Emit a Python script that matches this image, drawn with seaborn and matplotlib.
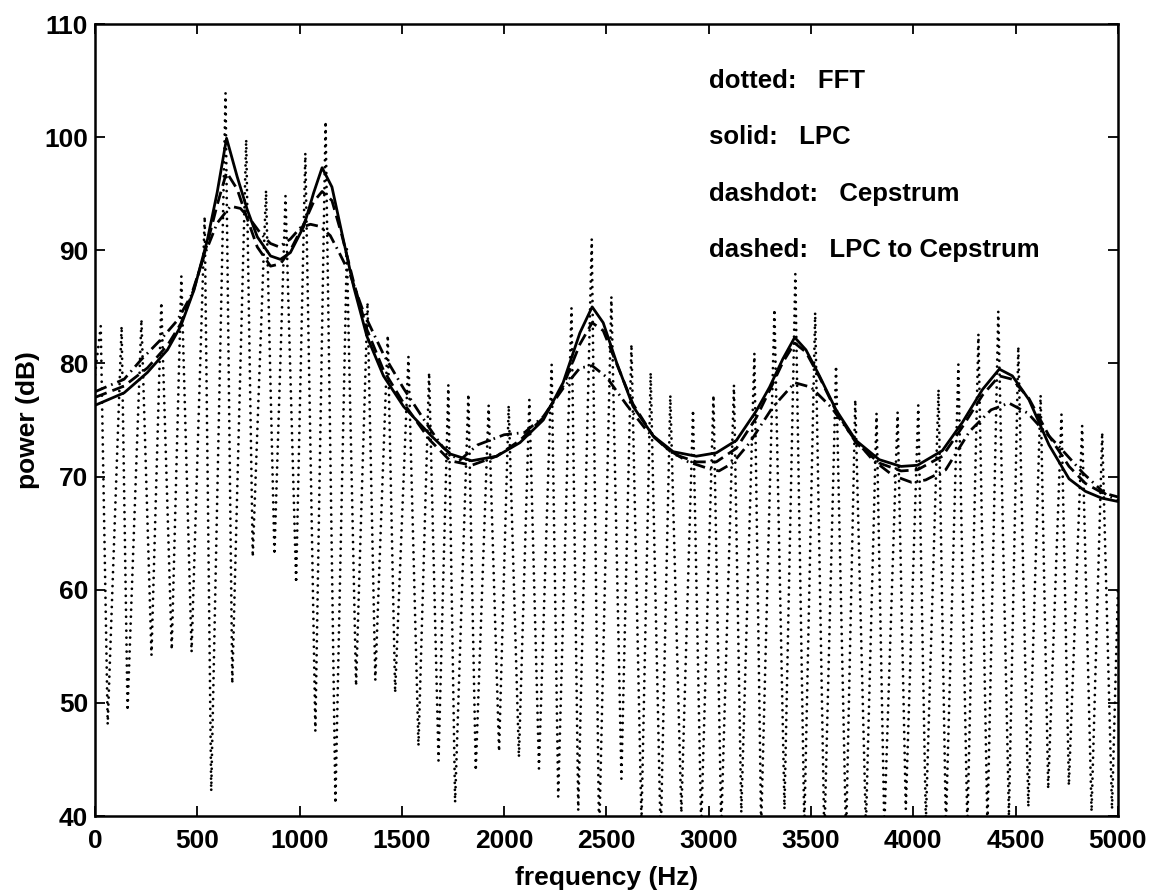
import matplotlib
matplotlib.use("Agg")
import matplotlib.pyplot as plt
import seaborn as sns
import pandas as pd

# ---------------- data ----------------
# FFT (dotted): harmonic peaks and the troughs between them
fft_peak_hz = [28, 130, 227, 324, 422, 536, 638, 739, 836, 931, 1028, 1127, 1231, 1332, 1431,
               1532, 1633, 1727, 1825, 1924, 2022, 2123, 2232, 2329, 2428, 2524, 2622, 2716,
               2812, 2923, 3023, 3123, 3223, 3321, 3423, 3520, 3622, 3716, 3820, 3923, 4024,
               4123, 4220, 4318, 4415, 4513, 4622, 4724, 4825, 4923]
fft_peak_db = [83.3, 83.3, 83.9, 85.4, 87.7, 93.0, 103.9, 99.8, 95.3, 94.8, 98.6, 101.4, 90.1,
               85.4, 82.5, 80.6, 79.2, 78.1, 77.3, 76.3, 76.3, 76.8, 79.9, 84.9, 91.0, 85.9,
               81.7, 79.2, 77.2, 75.9, 77.2, 78.1, 80.9, 84.8, 87.9, 84.5, 79.8, 76.8, 75.6,
               75.7, 76.3, 77.7, 79.9, 82.6, 84.6, 81.5, 77.2, 75.5, 74.5, 73.9]
fft_trough_hz = [62, 159, 276, 375, 472, 568, 671, 771, 877, 983, 1077, 1175, 1276, 1370, 1467,
                 1581, 1679, 1760, 1861, 1975, 2072, 2170, 2264, 2362, 2464, 2573, 2671, 2765,
                 2866, 2963, 3061, 3159, 3256, 3370, 3467, 3565, 3671, 3768, 3858, 3963, 4061,
                 4159, 4264, 4362, 4467, 4562, 4659, 4760, 4871, 4971]
fft_trough_db = [48.1, 49.3, 54.2, 54.7, 54.5, 42.2, 51.7, 62.9, 63.1, 60.6, 47.5, 41.1, 51.5,
                 52.0, 50.9, 46.2, 44.9, 41.2, 44.0, 45.7, 45.2, 44.2, 41.7, 40.5, 38.0, 43.3,
                 39.5, 38.0, 40.3, 39.0, 39.0, 40.3, 39.0, 40.6, 39.0, 38.0, 38.0, 39.0, 39.0,
                 40.6, 39.5, 39.0, 39.0, 39.0, 40.0, 40.8, 42.4, 42.7, 40.4, 40.6]
fft_edge_hz = [0, 5000]
fft_edge_db = [79.0, 60.0]

# LPC (solid) and LPC-to-cepstrum (dashed) envelopes
env_hz = [0, 142, 256, 354, 419, 484, 549, 597, 643, 695, 744, 793, 858, 906, 955, 1020, 1069,
          1110, 1158, 1207, 1264, 1329, 1410, 1508, 1638, 1736, 1841, 1963, 2077, 2191, 2288,
          2370, 2430, 2484, 2549, 2630, 2728, 2826, 2939, 3037, 3135, 3232, 3297, 3362, 3420,
          3475, 3541, 3622, 3719, 3833, 3940, 4020, 4142, 4240, 4338, 4420, 4484, 4565, 4663,
          4761, 4841, 4920, 5000]
lpc_db = [76.3, 77.4, 79.2, 81.2, 83.3, 86.5, 90.9, 95.1, 99.9, 96.5, 93.6, 91.2, 89.5, 89.2,
          89.8, 92.1, 95.1, 97.3, 95.6, 91.5, 86.8, 82.4, 78.9, 76.2, 73.7, 72.0, 71.4, 71.8,
          73.0, 75.0, 78.3, 82.7, 85.0, 83.6, 80.1, 76.2, 73.6, 72.2, 71.8, 72.1, 73.2, 75.8,
          77.9, 80.4, 82.3, 81.2, 78.9, 75.9, 73.2, 71.5, 70.9, 71.0, 72.3, 74.8, 77.7, 79.5,
          78.9, 76.8, 72.8, 69.8, 68.7, 68.1, 67.8]
lpc2cep_db = [77.0, 78.0, 79.6, 81.6, 83.5, 86.6, 90.6, 94.0, 96.9, 95.4, 92.8, 90.3, 88.6,
              88.8, 90.0, 92.3, 94.3, 95.2, 94.4, 91.3, 87.2, 83.0, 79.4, 76.5, 73.2, 71.4,
              71.0, 71.8, 73.2, 75.2, 78.0, 81.7, 83.6, 82.9, 80.0, 76.4, 73.6, 72.0, 71.3,
              71.3, 72.5, 75.2, 77.6, 80.1, 81.8, 81.0, 78.8, 75.8, 73.0, 71.2, 70.5, 70.6,
              71.8, 74.4, 77.2, 78.9, 78.6, 76.9, 73.6, 70.9, 69.4, 68.6, 68.2]

# Cepstrum (dashdot)
cep_hz = [0, 142, 224, 321, 402, 470, 533, 597, 662, 711, 760, 809, 858, 900, 955, 1004, 1053,
          1102, 1150, 1199, 1248, 1313, 1410, 1508, 1638, 1700, 1780, 1870, 2000, 2100, 2191,
          2288, 2370, 2430, 2500, 2600, 2700, 2800, 2900, 3000, 3050, 3117, 3200, 3311, 3420,
          3500, 3600, 3700, 3800, 3900, 3990, 4060, 4158, 4275, 4380, 4467, 4560, 4625, 4715,
          4830, 4942, 5000]
cep_db = [77.5, 78.6, 80.3, 82.1, 83.8, 86.0, 89.5, 92.4, 93.9, 93.7, 92.7, 91.5, 90.6, 90.3,
          91.0, 92.0, 92.3, 92.1, 91.3, 89.6, 87.8, 84.5, 80.8, 77.8, 74.2, 72.6, 71.4, 72.8,
          73.7, 73.9, 75.3, 77.8, 79.6, 79.8, 78.8, 76.3, 74.0, 72.4, 71.3, 70.7, 70.5, 71.2,
          73.0, 76.1, 78.3, 77.9, 76.1, 73.6, 71.5, 70.1, 69.5, 69.7, 70.6, 74.0, 75.9, 76.5,
          75.6, 74.3, 72.6, 70.3, 68.4, 67.9]

legend_keys = ["dotted:", "solid:", "dashdot:", "dashed:"]
legend_names = ["FFT", "LPC", "Cepstrum", "LPC to Cepstrum"]
legend_db = [105, 100, 95, 90]

x_ticks = list(range(0, 5001, 500))
y_ticks = list(range(40, 111, 10))

# ---------------- build the FFT zig-zag ----------------
fft_hz = [fft_edge_hz[0]]
fft_db = [fft_edge_db[0]]
for ph, pd_, th, td in zip(fft_peak_hz, fft_peak_db, fft_trough_hz, fft_trough_db):
    fft_hz += [ph, th]
    fft_db += [pd_, td]
fft_hz.append(fft_edge_hz[1])
fft_db.append(fft_edge_db[1])
fft_df = pd.DataFrame({"hz": fft_hz, "db": fft_db})
env_df = pd.DataFrame({"hz": env_hz, "lpc": lpc_db, "lpc2cep": lpc2cep_db})
cep_df = pd.DataFrame({"hz": cep_hz, "cep": cep_db})

# ---------------- plot ----------------
sns.set_style("ticks")
plt.rcParams["font.family"] = ["Liberation Sans", "DejaVu Sans"]
plt.rcParams["font.weight"] = "bold"
plt.rcParams["axes.labelweight"] = "bold"

fig = plt.figure(figsize=(11.53, 8.93), dpi=100)
ax = fig.add_axes([0.0824, 0.0862, 0.8872, 0.8869])

sns.lineplot(data=fft_df, x="hz", y="db", ax=ax, color="black", lw=2.0,
             sort=False, estimator=None)
l_fft = ax.lines[-1]
l_fft.set_linestyle((0, (0.01, 2.5)))
l_fft.set_dash_capstyle("round")

sns.lineplot(data=cep_df, x="hz", y="cep", ax=ax, color="black", lw=2.0,
             sort=False, estimator=None)
ax.lines[-1].set_linestyle((0, (4.5, 1.8, 0.6, 1.8)))

sns.lineplot(data=env_df, x="hz", y="lpc2cep", ax=ax, color="black", lw=2.0,
             sort=False, estimator=None)
ax.lines[-1].set_linestyle((0, (4.5, 2.2)))

sns.lineplot(data=env_df, x="hz", y="lpc", ax=ax, color="black", lw=2.0,
             sort=False, estimator=None)

for k, n, yv in zip(legend_keys, legend_names, legend_db):
    ax.text(3000, yv, k + "   " + n, fontsize=18.5, va="center", ha="left",
            color="black", fontweight="bold")

ax.set_xlim(0, 5000)
ax.set_ylim(40, 110)
ax.set_xticks(x_ticks)
ax.set_yticks(y_ticks)
ax.tick_params(direction="in", length=7, width=1.3, top=True, right=True,
               labelsize=19, colors="black")
ax.tick_params(axis="x", pad=9)
ax.tick_params(axis="y", pad=5)
for s in ax.spines.values():
    s.set_visible(True)
    s.set_linewidth(1.8)
    s.set_color("black")
ax.set_xlabel("frequency (Hz)", fontsize=19, labelpad=10, color="black", fontweight="bold")
ax.set_ylabel("power (dB)", fontsize=19, labelpad=3, color="black", fontweight="bold")
ax.grid(False)

fig.savefig("out.png", dpi=100)
